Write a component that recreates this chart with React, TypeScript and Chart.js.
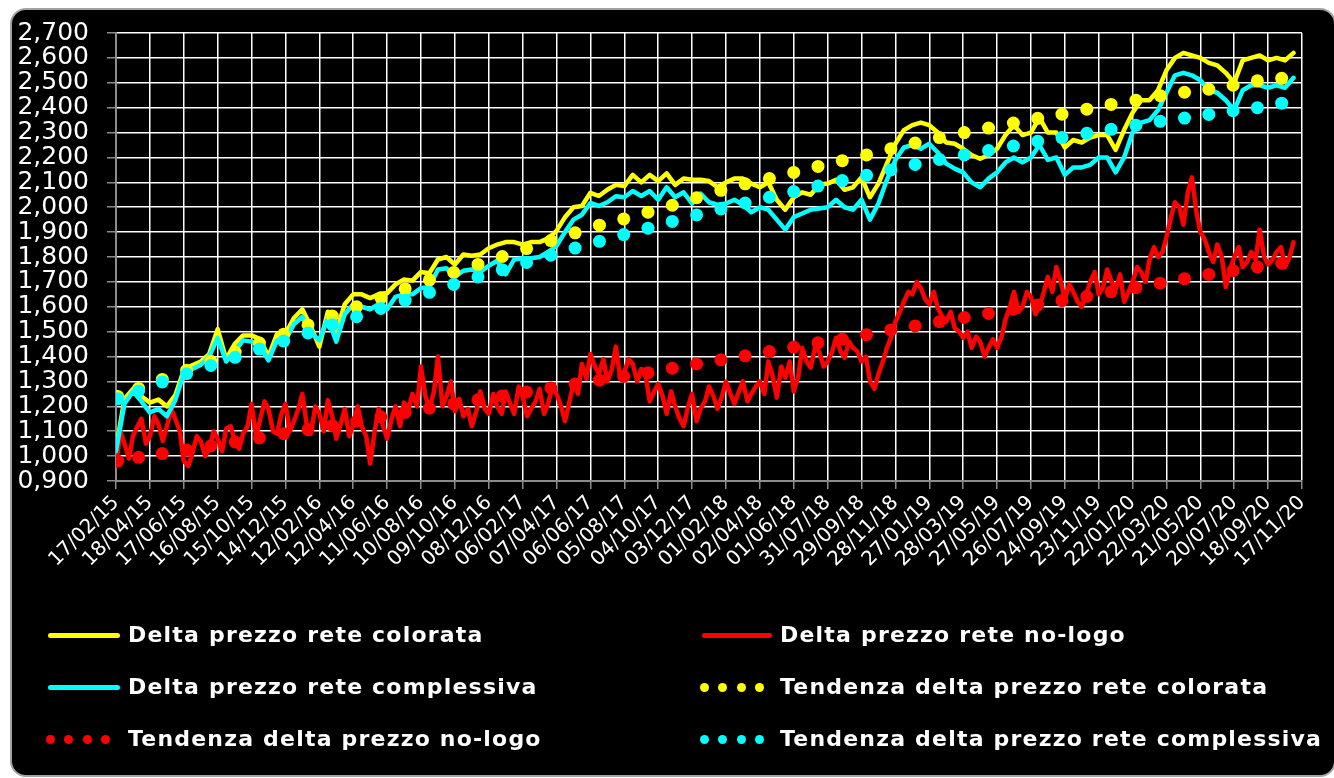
import React, { useEffect, useRef } from "react";
import { Chart, registerables } from "chart.js";

Chart.register(...registerables);

// Sample days (days since 17/02/15)
const sampleDays = [
  0, 15, 30, 45, 60, 75, 90, 105, 120, 135, 150, 165, 180, 195, 210, 225, 240, 255, 270, 285,
  300, 315, 330, 345, 360, 375, 390, 405, 420, 435, 450, 465, 480, 495, 510, 525, 540, 555, 570, 585,
  600, 615, 630, 645, 660, 675, 690, 705, 720, 735, 750, 765, 780, 795, 810, 825, 840, 855, 870, 885,
  900, 915, 930, 945, 960, 975, 990, 1005, 1020, 1035, 1050, 1065, 1080, 1095, 1110, 1125, 1140, 1155, 1170, 1185,
  1200, 1215, 1230, 1245, 1260, 1275, 1290, 1305, 1320, 1335, 1350, 1365, 1380, 1395, 1410, 1425, 1440, 1455, 1470, 1485,
  1500, 1515, 1530, 1545, 1560, 1575, 1590, 1605, 1620, 1635, 1650, 1665, 1680, 1695, 1710, 1725, 1740, 1755, 1770, 1785,
  1800, 1815, 1830, 1845, 1860, 1875, 1890, 1905, 1920, 1935, 1950, 1965, 1980, 1995, 2010, 2025, 2040, 2055, 2070, 2085,
];

const deltaColorata = [
  1.03, 1.23, 1.27, 1.24, 1.215, 1.227, 1.2, 1.245, 1.345, 1.365,
  1.38, 1.41, 1.51, 1.39, 1.45, 1.485, 1.485, 1.47, 1.4, 1.49,
  1.49, 1.555, 1.59, 1.52, 1.44, 1.58, 1.5, 1.61, 1.65, 1.65,
  1.635, 1.65, 1.655, 1.69, 1.71, 1.705, 1.74, 1.735, 1.79, 1.8,
  1.77, 1.81, 1.805, 1.81, 1.835, 1.85, 1.86, 1.86, 1.85, 1.86,
  1.86, 1.875, 1.905, 1.96, 2.0, 2.005, 2.058, 2.045, 2.07, 2.09,
  2.085, 2.13, 2.1, 2.13, 2.105, 2.136, 2.09, 2.115, 2.11, 2.11,
  2.105, 2.08, 2.1, 2.115, 2.115, 2.095, 2.08, 2.1, 2.03, 1.99,
  2.04, 2.06, 2.05, 2.09, 2.095, 2.11, 2.07, 2.08, 2.12, 2.04,
  2.095, 2.175, 2.255, 2.31, 2.33, 2.34, 2.33, 2.3, 2.26, 2.255,
  2.235, 2.21, 2.195, 2.21, 2.235, 2.29, 2.33, 2.29, 2.3, 2.36,
  2.3, 2.3, 2.24, 2.27, 2.26, 2.28, 2.29, 2.29, 2.23, 2.31,
  2.38, 2.43, 2.43, 2.47, 2.55, 2.6, 2.62, 2.61, 2.6, 2.58,
  2.57, 2.54, 2.5, 2.59, 2.6, 2.61, 2.59, 2.6, 2.59, 2.62,
];

const deltaComplessiva = [
  1.02, 1.21, 1.26, 1.22, 1.175, 1.19, 1.16, 1.225, 1.33, 1.35,
  1.366, 1.4, 1.475, 1.38, 1.42, 1.465, 1.46, 1.44, 1.385, 1.465,
  1.465, 1.53, 1.56, 1.495, 1.465, 1.555, 1.46, 1.57, 1.61, 1.6,
  1.59, 1.61, 1.59, 1.64, 1.65, 1.65, 1.675, 1.68, 1.75, 1.755,
  1.72, 1.745, 1.75, 1.74, 1.765, 1.785, 1.73, 1.79, 1.795, 1.795,
  1.8, 1.82, 1.845, 1.9, 1.95, 1.97, 2.017, 2.005, 2.02, 2.044,
  2.04, 2.065, 2.045, 2.065, 2.03, 2.08, 2.04, 2.06, 2.015, 2.055,
  2.02, 2.01, 2.015, 2.03, 2.01, 1.98, 2.0, 1.99, 1.95, 1.91,
  1.96, 1.975, 1.99, 1.995, 2.0, 2.03, 2.0, 1.99, 2.03, 1.95,
  2.015, 2.11, 2.19, 2.24, 2.25, 2.235, 2.255, 2.22, 2.175, 2.155,
  2.14, 2.1, 2.08, 2.115, 2.14, 2.18, 2.2, 2.18, 2.2, 2.25,
  2.19, 2.2, 2.13, 2.16, 2.16, 2.17, 2.2, 2.2, 2.14, 2.2,
  2.3, 2.34, 2.35, 2.39, 2.46, 2.53, 2.54, 2.53, 2.51, 2.47,
  2.46, 2.43, 2.39, 2.47, 2.49, 2.49, 2.48, 2.49, 2.48, 2.52,
];

const deltaNoLogo = [
  0.96, 1.05, 1.08, 1.15, 1.08, 1.13, 1.12, 1.15, 0.98, 1.01,
  1.06, 1.03, 1.07, 1.11, 1.065, 1.09, 1.21, 1.145, 1.19, 1.09,
  1.21, 1.14, 1.25, 1.09, 1.17, 1.225, 1.07, 1.19, 1.125, 1.12,
  0.97, 1.19, 1.07, 1.2, 1.215, 1.25, 1.36, 1.19, 1.4, 1.24,
  1.18, 1.16, 1.12, 1.26, 1.17, 1.2, 1.26, 1.17, 1.24, 1.19,
  1.27, 1.21, 1.25, 1.14, 1.29, 1.37, 1.41, 1.33, 1.3, 1.44,
  1.34, 1.37, 1.35, 1.22, 1.29, 1.17, 1.2, 1.12, 1.25, 1.19,
  1.28, 1.19, 1.3, 1.21, 1.3, 1.25, 1.3, 1.38, 1.235, 1.315,
  1.26, 1.435, 1.355, 1.42, 1.38, 1.475, 1.395, 1.435, 1.38, 1.3,
  1.33, 1.435, 1.54, 1.62, 1.65, 1.675, 1.61, 1.595, 1.54, 1.515,
  1.475, 1.435, 1.46, 1.435, 1.435, 1.55, 1.66, 1.6, 1.64, 1.6,
  1.72, 1.76, 1.63, 1.66, 1.6, 1.7, 1.65, 1.75, 1.67, 1.62,
  1.7, 1.74, 1.79, 1.8, 1.88, 2.02, 1.93, 2.12, 1.9, 1.82,
  1.85, 1.68, 1.8, 1.76, 1.82, 1.91, 1.77, 1.82, 1.76, 1.86,
];

// Extra no-logo readings taken half-way between the sample days (8 days after each)
const deltaNoLogoMid = [
  1.1, 0.99, 1.12, 1.05, 1.16, 1.06, 1.19, 1.1, 0.96, 1.08,
  1.0, 1.1, 1.02, 1.12, 1.03, 1.12, 1.08, 1.22, 1.1, 1.17,
  1.1, 1.19, 1.12, 1.2, 1.1, 1.16, 1.13, 1.08, 1.2, 1.08,
  1.1, 1.12, 1.15, 1.12, 1.19, 1.2, 1.24, 1.26, 1.2, 1.3,
  1.23, 1.19, 1.18, 1.19, 1.25, 1.17, 1.21, 1.28, 1.16, 1.22,
  1.17, 1.28, 1.2, 1.22, 1.25, 1.31, 1.36, 1.39, 1.35, 1.31,
  1.39, 1.3, 1.32, 1.26, 1.24, 1.26, 1.15, 1.2, 1.14, 1.22,
  1.24, 1.24, 1.25, 1.26, 1.22, 1.28, 1.25, 1.32, 1.36, 1.38,
  1.32, 1.38, 1.44, 1.36, 1.42, 1.42, 1.46, 1.42, 1.4, 1.27,
  1.38, 1.48, 1.58, 1.66, 1.7, 1.63, 1.66, 1.56, 1.58, 1.5,
  1.5, 1.48, 1.4, 1.47, 1.48, 1.6, 1.58, 1.66, 1.57, 1.66,
  1.66, 1.7, 1.69, 1.62, 1.65, 1.74, 1.68, 1.7, 1.73, 1.66,
  1.76, 1.7, 1.84, 1.82, 1.96, 2.0, 2.06, 1.98, 1.87, 1.78,
  1.8, 1.75, 1.84, 1.78, 1.79, 1.8, 1.79, 1.84, 1.8,
];

// Trend (tendenza) points
const trendDays = [
  3, 40, 82, 125, 168, 211, 254, 297, 340, 383, 426, 469, 512, 555, 598, 641, 684, 727, 770, 813,
  856, 899, 942, 985, 1028, 1071, 1114, 1157, 1200, 1243, 1286, 1329, 1372, 1415, 1458, 1502, 1545, 1589, 1632, 1675,
  1719, 1762, 1806, 1849, 1892, 1935, 1978, 2021, 2064,
];

const trendColorata = [
  1.24, 1.272, 1.308, 1.345, 1.381, 1.418, 1.454, 1.49, 1.527, 1.563,
  1.6, 1.636, 1.672, 1.708, 1.738, 1.77, 1.802, 1.834, 1.866, 1.897,
  1.928, 1.953, 1.98, 2.008, 2.038, 2.068, 2.094, 2.115, 2.14, 2.164,
  2.187, 2.21, 2.235, 2.258, 2.28, 2.3, 2.318, 2.338, 2.357, 2.374,
  2.394, 2.413, 2.43, 2.448, 2.462, 2.474, 2.49, 2.508, 2.518,
];

const trendNoLogo = [
  0.98, 0.995, 1.01, 1.025, 1.041, 1.057, 1.073, 1.09, 1.106, 1.123,
  1.14, 1.158, 1.176, 1.193, 1.21, 1.226, 1.242, 1.258, 1.274, 1.29,
  1.305, 1.32, 1.335, 1.353, 1.37, 1.387, 1.403, 1.42, 1.438, 1.455,
  1.47, 1.488, 1.507, 1.523, 1.54, 1.557, 1.573, 1.59, 1.607, 1.625,
  1.642, 1.66, 1.677, 1.695, 1.713, 1.73, 1.745, 1.76, 1.775,
];

const trendComplessiva = [
  1.23, 1.262, 1.298, 1.331, 1.364, 1.397, 1.43, 1.462, 1.495, 1.528,
  1.56, 1.593, 1.626, 1.658, 1.69, 1.72, 1.749, 1.778, 1.807, 1.836,
  1.863, 1.89, 1.916, 1.943, 1.969, 1.993, 2.017, 2.04, 2.063, 2.085,
  2.107, 2.128, 2.15, 2.172, 2.192, 2.21, 2.228, 2.246, 2.265, 2.28,
  2.297, 2.313, 2.329, 2.345, 2.358, 2.373, 2.388, 2.4, 2.418,
];

const xTickDays = [
  0, 60, 120, 180, 240, 300, 360, 420, 480, 540, 600, 660, 720, 780, 840, 900, 960, 1020,
  1080, 1140, 1200, 1260, 1320, 1380, 1440, 1500, 1560, 1620, 1680, 1740, 1800, 1860, 1920, 1980, 2040, 2100,
];
const xTickLabels = [
  "17/02/15", "18/04/15", "17/06/15", "16/08/15", "15/10/15", "14/12/15", "12/02/16", "12/04/16", "11/06/16",
  "10/08/16", "09/10/16", "08/12/16", "06/02/17", "07/04/17", "06/06/17", "05/08/17", "04/10/17", "03/12/17",
  "01/02/18", "02/04/18", "01/06/18", "31/07/18", "29/09/18", "28/11/18", "27/01/19", "28/03/19", "27/05/19",
  "26/07/19", "24/09/19", "23/11/19", "22/01/20", "22/03/20", "21/05/20", "20/07/20", "18/09/20", "17/11/20",
];

const yTickValues = [0.9, 1.0, 1.1, 1.2, 1.3, 1.4, 1.5, 1.6, 1.7, 1.8, 1.9, 2.0, 2.1, 2.2, 2.3, 2.4, 2.5, 2.6, 2.7];
const yTickLabels = [
  "0,900", "1,000", "1,100", "1,200", "1,300", "1,400", "1,500", "1,600", "1,700", "1,800",
  "1,900", "2,000", "2,100", "2,200", "2,300", "2,400", "2,500", "2,600", "2,700",
];

const seriesNames = [
  "Delta prezzo rete colorata",
  "Delta prezzo rete no-logo",
  "Delta prezzo rete complessiva",
  "Tendenza delta prezzo rete colorata",
  "Tendenza delta prezzo no-logo",
  "Tendenza delta prezzo rete complessiva",
];
const YELLOW = "#ffff00";
const RED = "#ff0000";
const CYAN = "#00ffff";

const toPoints = (days: number[], vals: number[]) => vals.map((v, i) => ({ x: days[i], y: v }));

// merge the main no-logo readings with the half-way readings, in day order
const noLogoPoints = () => {
  const pts: { x: number; y: number }[] = [];
  deltaNoLogo.forEach((v, i) => {
    pts.push({ x: sampleDays[i], y: v });
    if (i < deltaNoLogoMid.length) pts.push({ x: sampleDays[i] + 8, y: deltaNoLogoMid[i] });
  });
  return pts;
};

const legendItems = [
  { name: seriesNames[0], color: YELLOW, dotted: false, left: 48, textLeft: 128, y: 635 },
  { name: seriesNames[1], color: RED, dotted: false, left: 702, textLeft: 780, y: 635 },
  { name: seriesNames[2], color: CYAN, dotted: false, left: 48, textLeft: 128, y: 687 },
  { name: seriesNames[3], color: YELLOW, dotted: true, left: 700, textLeft: 780, y: 687 },
  { name: seriesNames[4], color: RED, dotted: true, left: 46, textLeft: 128, y: 739 },
  { name: seriesNames[5], color: CYAN, dotted: true, left: 700, textLeft: 780, y: 739 },
];

export default function App() {
  const canvasRef = useRef<HTMLCanvasElement | null>(null);

  useEffect(() => {
    const canvas = canvasRef.current;
    if (!canvas) return;
    const lineDs = (label: string, data: { x: number; y: number }[], color: string, order: number, width: number) => ({
      label,
      data,
      borderColor: color,
      backgroundColor: color,
      borderWidth: width,
      pointRadius: 0,
      tension: 0,
      borderJoinStyle: "round" as const,
      borderCapStyle: "round" as const,
      fill: false,
      order,
    });
    const dotDs = (label: string, vals: number[], color: string, order: number) => ({
      label,
      data: toPoints(trendDays, vals),
      showLine: false,
      borderColor: color,
      backgroundColor: color,
      pointBackgroundColor: color,
      pointBorderWidth: 0,
      pointRadius: 6.5,
      order,
    });
    const tickFontFamily = "'DejaVu Sans', Verdana, sans-serif";
    const chart = new Chart(canvas, {
      type: "line",
      data: {
        datasets: [
          lineDs(seriesNames[0], toPoints(sampleDays, deltaColorata), YELLOW, 6, 4.5),
          lineDs(seriesNames[1], noLogoPoints(), RED, 5, 4.5),
          lineDs(seriesNames[2], toPoints(sampleDays, deltaComplessiva), CYAN, 4, 4.5),
          dotDs(seriesNames[3], trendColorata, YELLOW, 3),
          dotDs(seriesNames[4], trendNoLogo, RED, 2),
          dotDs(seriesNames[5], trendComplessiva, CYAN, 1),
        ] as any,
      },
      options: {
        animation: false,
        responsive: false,
        maintainAspectRatio: false,
        layout: { padding: { left: 0, right: 32, top: 28, bottom: 0 } },
        plugins: { legend: { display: false }, tooltip: { enabled: false } },
        scales: {
          x: {
            type: "linear",
            min: 0,
            max: 2100,
            afterBuildTicks: (scale: any) => {
              scale.ticks = xTickDays.map((d) => ({ value: d }));
            },
            afterFit: (scale: any) => {
              scale.height = 297;
            },
            ticks: {
              autoSkip: false,
              maxRotation: 45,
              minRotation: 45,
              color: "#ffffff",
              padding: 2,
              font: { family: tickFontFamily, size: 20 },
              callback: (_v: any, i: number) => xTickLabels[i],
            },
            grid: { color: "#ffffff", lineWidth: 1.5, tickColor: "#8c8c8c", tickLength: 8 },
            border: { color: "#8c8c8c", width: 2 },
          },
          y: {
            type: "linear",
            min: 0.9,
            max: 2.7,
            afterBuildTicks: (scale: any) => {
              scale.ticks = yTickValues.map((v) => ({ value: v }));
            },
            afterFit: (scale: any) => {
              scale.width = 116;
            },
            ticks: {
              autoSkip: false,
              color: "#ffffff",
              padding: 18,
              font: { family: tickFontFamily, size: 25 },
              callback: (_v: any, i: number) => yTickLabels[i],
            },
            grid: { color: "#ffffff", lineWidth: 1.5, tickColor: "#8c8c8c", tickLength: 9 },
            border: { color: "#8c8c8c", width: 2 },
          },
        },
      } as any,
    });
    return () => chart.destroy();
  }, []);

  return (
    <div style={{ position: "absolute", left: 0, top: 0, width: 1334, height: 778, background: "#ffffff", overflow: "hidden" }}>
      <div
        style={{
          position: "absolute",
          left: 10,
          top: 8,
          width: 1326,
          height: 769,
          boxSizing: "border-box",
          border: "2px solid #a3a3a3",
          borderRadius: 16,
          background: "#000000",
        }}
      />
      <canvas ref={canvasRef} width={1334} height={778} style={{ position: "absolute", left: 0, top: 0, width: 1334, height: 778 }} />
      {legendItems.map((it) => (
        <React.Fragment key={it.name}>
          {it.dotted ? (
            [0, 1, 2, 3].map((k) => (
              <div
                key={k}
                style={{
                  position: "absolute",
                  left: it.left + k * 18.3,
                  top: it.y - 4.5,
                  width: 9,
                  height: 9,
                  borderRadius: "50%",
                  background: it.color,
                }}
              />
            ))
          ) : (
            <div
              style={{
                position: "absolute",
                left: it.left,
                top: it.y - 2.5,
                width: it.textLeft - it.left - 8,
                height: 5,
                borderRadius: 2.5,
                background: it.color,
              }}
            />
          )}
          <div
            style={{
              position: "absolute",
              left: it.textLeft,
              top: it.y - 13,
              height: 26,
              lineHeight: "26px",
              fontFamily: "'DejaVu Sans', Verdana, sans-serif",
              fontWeight: "bold",
              fontSize: 22,
              letterSpacing: "1.2px",
              color: "#ffffff",
              whiteSpace: "nowrap",
            }}
          >
            {it.name}
          </div>
        </React.Fragment>
      ))}
    </div>
  );
}
